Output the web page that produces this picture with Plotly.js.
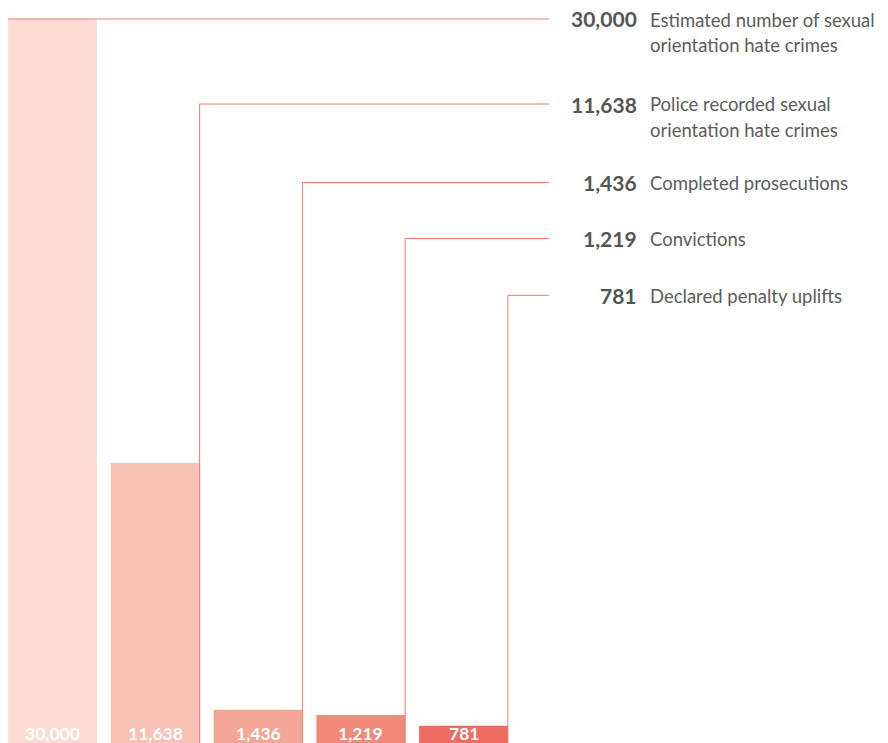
<!DOCTYPE html>
<html>
<head>
<meta charset="utf-8">
<script src="https://cdn.plot.ly/plotly-3.0.1.min.js"></script>
<style>html,body{margin:0;padding:0;background:#fff;}#chart{width:888px;height:743px;}</style>
</head>
<body>
<div id="chart"></div>
<script>
// ---- data ----
const categories = ['Estimated', 'Police recorded', 'Completed prosecutions', 'Convictions', 'Declared penalty uplifts'];
const values = [30000, 11638, 1436, 1219, 781];
const valueLabels = ['30,000', '11,638', '1,436', '1,219', '781'];
const descriptions = [
  ['Estimated number of sexual', 'orientation hate crimes'],
  ['Police recorded sexual', 'orientation hate crimes'],
  ['Completed prosecutions'],
  ['Convictions'],
  ['Declared penalty uplifts']
];
const barColors = ['#fddcd3', '#f9c2b6', '#f4a596', '#f1897b', '#ee6b5f'];

// ---- layout constants ----
const W = 888, H = 743;
const xr = [-0.511, 8.131];
const yr = [66, 30785];
const bargap = 0.136;
const rowY = [19, 104, 182.5, 238.5, 295.3];
const lineEndPx = 549;
const numRightPx = 639;
const textLeftPx = 648;
const lineSpacing = 25.5;
const lineColor = '#ef7a6e';
const font = 'Lato, "Noto Sans", sans-serif';

const toDX = px => xr[0] + px / W * (xr[1] - xr[0]);
const toDY = py => yr[1] - py / H * (yr[1] - yr[0]);
const half = (1 - bargap) / 2;

const shapes = [];
const annotations = [];
values.forEach((v, i) => {
  let path;
  if (i === 0) {
    path = `M ${i - half},${v} L ${toDX(lineEndPx)},${v}`;
  } else {
    const yl = toDY(rowY[i]);
    path = `M ${i + half},${yr[0]} L ${i + half},${yl} L ${toDX(lineEndPx)},${yl}`;
  }
  shapes.push({type: 'path', path, xref: 'x', yref: 'y', line: {color: lineColor, width: 1}, layer: 'above'});

  annotations.push({
    xref: 'paper', yref: 'paper', x: numRightPx / W, y: 1 - rowY[i] / H,
    xanchor: 'right', yanchor: 'middle', showarrow: false,
    text: '<b>' + valueLabels[i] + '</b>',
    font: {family: font, size: 21, color: '#555555'}
  });
  descriptions[i].forEach((line, k) => {
    annotations.push({
      xref: 'paper', yref: 'paper', x: textLeftPx / W, y: 1 - (rowY[i] + 0.5 + k * lineSpacing) / H,
      xanchor: 'left', yanchor: 'middle', showarrow: false,
      text: line,
      font: {family: font, size: 18.5, color: '#5c5c5c'}
    });
  });
  annotations.push({
    xref: 'x', yref: 'paper', x: categories[i], y: 1 - 733 / H,
    xanchor: 'center', yanchor: 'middle', showarrow: false,
    text: '<b>' + valueLabels[i] + '</b>',
    font: {family: font, size: 17.5, color: '#ffffff'}
  });
});

const trace = {
  type: 'bar',
  x: categories,
  y: values,
  marker: {color: barColors, line: {width: 0}},
  hoverinfo: 'none'
};

const layout = {
  width: W, height: H,
  margin: {l: 0, r: 0, t: 0, b: 0, pad: 0},
  paper_bgcolor: '#ffffff', plot_bgcolor: '#ffffff',
  showlegend: false,
  bargap: bargap,
  xaxis: {type: 'category', range: xr, visible: false, fixedrange: true},
  yaxis: {range: yr, visible: false, fixedrange: true},
  shapes, annotations
};

Plotly.newPlot('chart', [trace], layout, {displayModeBar: false, staticPlot: true});
</script>
</body>
</html>
